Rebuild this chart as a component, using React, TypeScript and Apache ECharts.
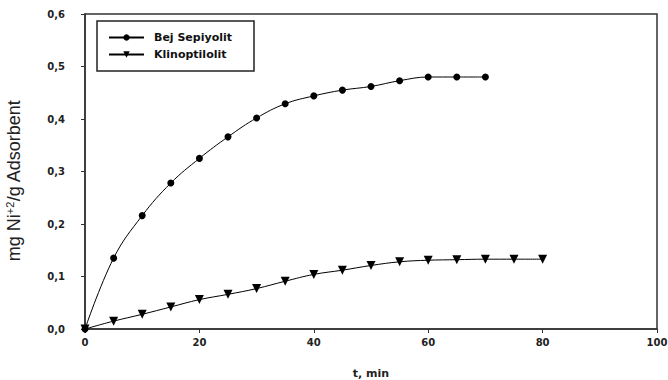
import React, { useEffect, useRef } from "react";
import * as echarts from "echarts";

const timeMin = [0, 5, 10, 15, 20, 25, 30, 35, 40, 45, 50, 55, 60, 65, 70, 75, 80];
const sepiyolitValues = [0, 0.135, 0.216, 0.278, 0.325, 0.366, 0.402, 0.429, 0.444, 0.455, 0.462, 0.473, 0.48, 0.48, 0.48];
const klinoptilolitValues = [0, 0.015, 0.028, 0.042, 0.056, 0.066, 0.077, 0.091, 0.104, 0.112, 0.121, 0.128, 0.131, 0.132, 0.133, 0.133, 0.133];
const seriesNames = ["Bej Sepiyolit", "Klinoptilolit"];
const xTicks = { min: 0, max: 100, interval: 20 };
const yTicks = { min: 0, max: 0.6, interval: 0.1 };

export default function App() {
  const ref = useRef<HTMLDivElement>(null);
  useEffect(() => {
    if (!ref.current) return;
    const chart = echarts.init(ref.current, null, { renderer: "svg" });
    const pairs = (vals: number[]) => vals.map((v, i) => [timeMin[i], v]);
    const tickFont = { fontFamily: "DejaVu Sans", fontWeight: "bold" as const, fontSize: 10, color: "#222" };
    chart.setOption({
      animation: false,
      backgroundColor: "#fff",
      grid: {
        left: 85,
        right: 11,
        top: 14,
        bottom: 51,
        show: true,
        borderColor: "#333",
        borderWidth: 1.5,
        backgroundColor: "transparent",
        containLabel: false,
        outerBoundsMode: "none",
      },
      legend: {
        left: 108,
        top: 32,
        orient: "vertical",
        itemWidth: 35,
        itemHeight: 8,
        itemGap: 6,
        padding: 0,
        textStyle: { ...tickFont, fontSize: 11, color: "#111", padding: [0, 0, 0, 5] },
        data: seriesNames,
      },
      graphic: [
        {
          type: "rect",
          shape: { x: 97, y: 21, width: 157, height: 50 },
          style: { fill: "none", stroke: "#222", lineWidth: 1.5 },
          z: 10,
        },
      ],
      xAxis: {
        type: "value",
        min: xTicks.min,
        max: xTicks.max,
        interval: xTicks.interval,
        name: "t, min",
        nameLocation: "middle",
        nameGap: 39,
        nameTextStyle: { ...tickFont, fontSize: 11 },
        axisLine: { show: true, lineStyle: { color: "#333", width: 1.5 } },
        axisTick: { show: true, length: 4, lineStyle: { color: "#333" } },
        axisLabel: { ...tickFont, margin: 8 },
        splitLine: { show: false },
      },
      yAxis: {
        type: "value",
        min: yTicks.min,
        max: yTicks.max,
        interval: yTicks.interval,
        name: "{n|mg Ni}{s|+2}{n|/g Adsorbent}",
        nameLocation: "middle",
        nameRotate: 90,
        nameGap: 61,
        nameTextStyle: {
          padding: [0, 18, 0, 0],
          rich: {
            n: { fontFamily: "Liberation Sans", fontSize: 18, color: "#222" },
            s: { fontFamily: "Liberation Sans", fontSize: 11, color: "#222", verticalAlign: "top", padding: [0, 0, 9, 0] },
          },
        },
        axisLine: { show: true, lineStyle: { color: "#333", width: 1.5 } },
        axisTick: { show: true, length: 4, lineStyle: { color: "#333" } },
        axisLabel: {
          ...tickFont,
          margin: 20,
          formatter: (v: number) => v.toFixed(1).replace(".", ","),
        },
        splitLine: { show: false },
      },
      series: [
        {
          name: seriesNames[0],
          type: "line",
          data: pairs(sepiyolitValues),
          smooth: 0.4,
          symbol: "circle",
          symbolSize: 7,
          itemStyle: { color: "#000" },
          lineStyle: { color: "#000", width: 1 },
        },
        {
          name: seriesNames[1],
          type: "line",
          data: pairs(klinoptilolitValues),
          smooth: 0.4,
          symbol: "triangle",
          symbolRotate: 180,
          symbolSize: 9,
          itemStyle: { color: "#000" },
          lineStyle: { color: "#000", width: 1 },
        },
      ],
    });
    return () => chart.dispose();
  }, []);
  return (
    <div
      ref={ref}
      style={{ position: "fixed", left: 0, top: 0, width: 668, height: 380, background: "#fff" }}
    />
  );
}
